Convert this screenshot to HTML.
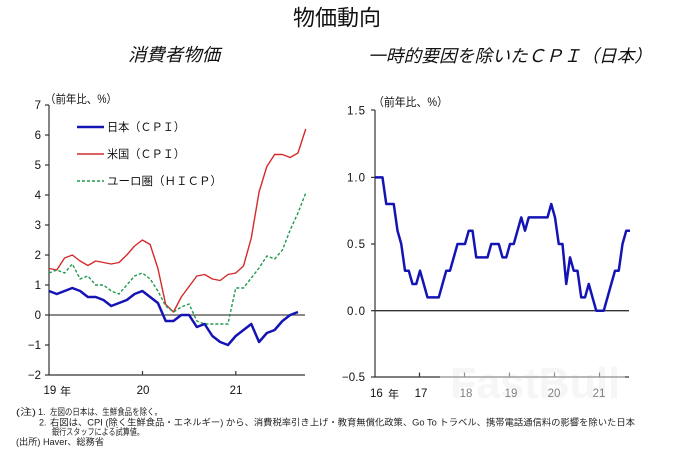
<!DOCTYPE html>
<html><head><meta charset="utf-8"><style>
html,body{margin:0;padding:0;background:#fff;}
svg{display:block;}
text{font-family:"Liberation Sans","Noto Sans CJK JP",sans-serif;}
.j{font-family:"Liberation Sans","Noto Sans CJK JP",sans-serif;}
</style></head><body>
<svg width="675" height="450" viewBox="0 0 675 450" xmlns="http://www.w3.org/2000/svg">
<rect width="675" height="450" fill="#fff"/>
<!-- Titles -->
<text x="293" y="25.5" font-size="22" fill="#111" textLength="88" lengthAdjust="spacingAndGlyphs">物価動向</text>
<text x="128" y="61" font-size="18" font-style="italic" fill="#111" textLength="92" lengthAdjust="spacingAndGlyphs">消費者物価</text>
<text x="368" y="62" font-size="17.5" font-style="italic" fill="#111" textLength="284" lengthAdjust="spacingAndGlyphs">一時的要因を除いたＣＰＩ（日本）</text>

<!-- LEFT CHART -->
<text x="45" y="103" font-size="11.5" fill="#111" textLength="72" lengthAdjust="spacingAndGlyphs">（前年比、%）</text>
<g stroke="#333" stroke-width="1.2" fill="none">
<line x1="49" y1="105" x2="49" y2="375"/>
<line x1="49" y1="375" x2="305" y2="375"/>
<line x1="45" y1="105" x2="49" y2="105"/>
<line x1="45" y1="135" x2="49" y2="135"/>
<line x1="45" y1="165" x2="49" y2="165"/>
<line x1="45" y1="195" x2="49" y2="195"/>
<line x1="45" y1="225" x2="49" y2="225"/>
<line x1="45" y1="255" x2="49" y2="255"/>
<line x1="45" y1="285" x2="49" y2="285"/>
<line x1="45" y1="315" x2="49" y2="315"/>
<line x1="45" y1="345" x2="49" y2="345"/>
<line x1="45" y1="375" x2="49" y2="375"/>
<line x1="142.5" y1="371" x2="142.5" y2="375"/>
<line x1="235.8" y1="371" x2="235.8" y2="375"/>
</g>
<line x1="49" y1="315" x2="305" y2="315" stroke="#444" stroke-width="1.3"/>
<g font-size="11.5" fill="#111" text-anchor="end">
<text x="41" y="109">7</text>
<text x="41" y="139">6</text>
<text x="41" y="169">5</text>
<text x="41" y="199">4</text>
<text x="41" y="229">3</text>
<text x="41" y="259">2</text>
<text x="41" y="289">1</text>
<text x="41" y="319">0</text>
<text x="41" y="349">−1</text>
<text x="41" y="379">−2</text>
</g>
<g font-size="11.5" fill="#111">
<text x="43.5" y="394">19</text>
<text x="60" y="395" font-size="11">年</text>
<text x="143" y="394" text-anchor="middle">20</text>
<text x="236" y="394" text-anchor="middle">21</text>
</g>
<!-- Legend -->
<line x1="77" y1="127" x2="104" y2="127" stroke="#1414b4" stroke-width="2.5"/>
<line x1="77" y1="154" x2="104" y2="154" stroke="#d42a2a" stroke-width="1.4"/>
<line x1="77" y1="181" x2="104" y2="181" stroke="#1e9a4e" stroke-width="1.4" stroke-dasharray="3,2"/>
<g font-size="11.5" fill="#111">
<text x="107" y="131" textLength="78" lengthAdjust="spacingAndGlyphs">日本（ＣＰＩ）</text>
<text x="107" y="158" textLength="78" lengthAdjust="spacingAndGlyphs">米国（ＣＰＩ）</text>
<text x="107" y="185" textLength="115" lengthAdjust="spacingAndGlyphs">ユーロ圏（ＨＩＣＰ）</text>
</g>
<!-- Series -->
<polyline fill="none" stroke="#d42a2a" stroke-width="1.4" stroke-linejoin="round" points="49,268.5 56.78,270 64.56,258 72.34,255 80.12,261 87.9,265.5 95.68,261 103.46,262.5 111.24,264 119.02,262.5 126.8,255 134.58,246 142.36,240 150.14,244.5 157.92,268.5 165.7,304.5 173.48,312 181.26,297 189.04,286.5 196.82,276 204.6,274.5 212.38,279 220.16,280.5 227.94,274.5 235.72,273 243.5,266 251.28,238 259.06,192 266.84,166.5 274.62,154.5 282.4,154.5 290.18,157.5 297.96,153 305.74,129"/>
<polyline fill="none" stroke="#1e9a4e" stroke-width="1.4" stroke-dasharray="3,2" points="49,273 56.78,270 64.56,273 72.34,264 80.12,279 87.9,276 95.68,285 103.46,285 111.24,291 119.02,294 126.8,285 134.58,276 142.36,273 150.14,279 157.92,291 165.7,306 173.48,312 181.26,307 189.04,304 196.82,321 204.6,324 212.38,324 220.16,324 227.94,324 235.72,288 243.5,288 251.28,278 259.06,268 266.84,256 274.62,259 282.4,250 290.18,230 297.96,213 305.74,193"/>
<polyline fill="none" stroke="#1414b4" stroke-width="2.5" stroke-linejoin="round" points="49,291 56.78,294 64.56,291 72.34,288 80.12,291 87.9,297 95.68,297 103.46,300 111.24,306 119.02,303 126.8,300 134.58,294 142.36,291 150.14,297 157.92,303 165.7,321 173.48,321 181.26,315 189.04,315 196.82,327 204.6,324 212.38,336 220.16,342 227.94,345 235.72,336 243.5,330 251.28,324 259.06,342 266.84,333 274.62,330 282.4,321 290.18,315 297.96,312"/>

<!-- RIGHT CHART -->
<text x="373" y="106" font-size="11.5" fill="#111" textLength="75" lengthAdjust="spacingAndGlyphs">（前年比、%）</text>
<text x="450" y="398" font-size="44" font-weight="bold" fill="#eeeeee" textLength="170" lengthAdjust="spacingAndGlyphs">FastBull</text>
<g stroke="#333" stroke-width="1.2" fill="none">
<line x1="375" y1="110" x2="375" y2="377"/>
<line x1="375" y1="377" x2="629" y2="377"/>
<line x1="371" y1="110" x2="375" y2="110"/>
<line x1="371" y1="177.4" x2="375" y2="177.4"/>
<line x1="371" y1="244" x2="375" y2="244"/>
<line x1="371" y1="310.7" x2="375" y2="310.7"/>
<line x1="371" y1="377" x2="375" y2="377"/>
<line x1="419.5" y1="372.5" x2="419.5" y2="377"/>
<line x1="464.5" y1="372.5" x2="464.5" y2="377"/>
<line x1="509.5" y1="372.5" x2="509.5" y2="377"/>
<line x1="554.5" y1="372.5" x2="554.5" y2="377"/>
<line x1="599.5" y1="372.5" x2="599.5" y2="377"/>
</g>
<line x1="375" y1="310.7" x2="629" y2="310.7" stroke="#333" stroke-width="1.3"/>
<g font-size="11.5" fill="#111">
<text x="347" y="114.5" textLength="18" lengthAdjust="spacing">1.5</text>
<text x="347" y="181.5" textLength="18" lengthAdjust="spacing">1.0</text>
<text x="347" y="248" textLength="18" lengthAdjust="spacing">0.5</text>
<text x="347" y="315" textLength="18" lengthAdjust="spacing">0.0</text>
<text x="342" y="381" textLength="23" lengthAdjust="spacing">−0.5</text>
<text x="370" y="397">16</text>
<text x="388" y="398" font-size="11">年</text>
<text x="421" y="397" text-anchor="middle">17</text>
<text x="466" y="397" text-anchor="middle">18</text>
<text x="511" y="397" text-anchor="middle">19</text>
<text x="554" y="397" text-anchor="middle">20</text>
<text x="599" y="397" text-anchor="middle">21</text>
</g>
<polyline fill="none" stroke="#1414b4" stroke-width="2.5" stroke-linejoin="round" points="375,177.4 378.75,177.4 382.5,177.4 386.25,204 390,204 393.75,204 397.5,230.7 401.25,244 405,270.7 408.75,270.7 412.5,284 416.25,284 420,270.7 423.75,284 427.5,297.4 431.25,297.4 435,297.4 438.75,297.4 442.5,284 446.25,270.7 450,270.7 453.75,257.4 457.5,244 461.25,244 465,244 468.75,230.7 472.5,230.7 476.25,257.4 480,257.4 483.75,257.4 487.5,257.4 491.25,244 495,244 498.75,244 502.5,257.4 506.25,257.4 510,244 513.75,244 517.5,230.7 521.25,217.4 525,230.7 528.75,217.4 532.5,217.4 536.25,217.4 540,217.4 543.75,217.4 547.5,217.4 551.25,204 555,217.4 558.75,244 562.5,244 566.25,284 570,257.4 573.75,270.7 577.5,270.7 581.25,297.4 585,297.4 588.75,284 592.5,297.4 596.25,310.7 600,310.7 603.75,310.7 607.5,297.4 611.25,284 615,270.7 618.75,270.7 622.5,244 626.25,230.7 630,230.7"/>
<rect x="440" y="362" width="185" height="40" fill="#fff" opacity="0.45"/>

<!-- Footnotes -->
<g font-size="9" fill="#222">
<text x="16" y="415" textLength="20" lengthAdjust="spacingAndGlyphs">(注)</text>
<text x="38" y="415">1.</text>
<text x="50" y="415" textLength="112" lengthAdjust="spacingAndGlyphs">左図の日本は、生鮮食品を除く。</text>
<text x="39" y="425.5">2.</text>
<text x="50" y="425.5" textLength="585" lengthAdjust="spacingAndGlyphs">右図は、CPI (除く生鮮食品・エネルギー) から、消費税率引き上げ・教育無償化政策、Go To トラベル、携帯電話通信料の影響を除いた日本</text>
<text x="52" y="435" textLength="92" lengthAdjust="spacingAndGlyphs">銀行スタッフによる試算値。</text>
<text x="16" y="445" textLength="88" lengthAdjust="spacingAndGlyphs">(出所) Haver、総務省</text>
</g>
</svg>
</body></html>
